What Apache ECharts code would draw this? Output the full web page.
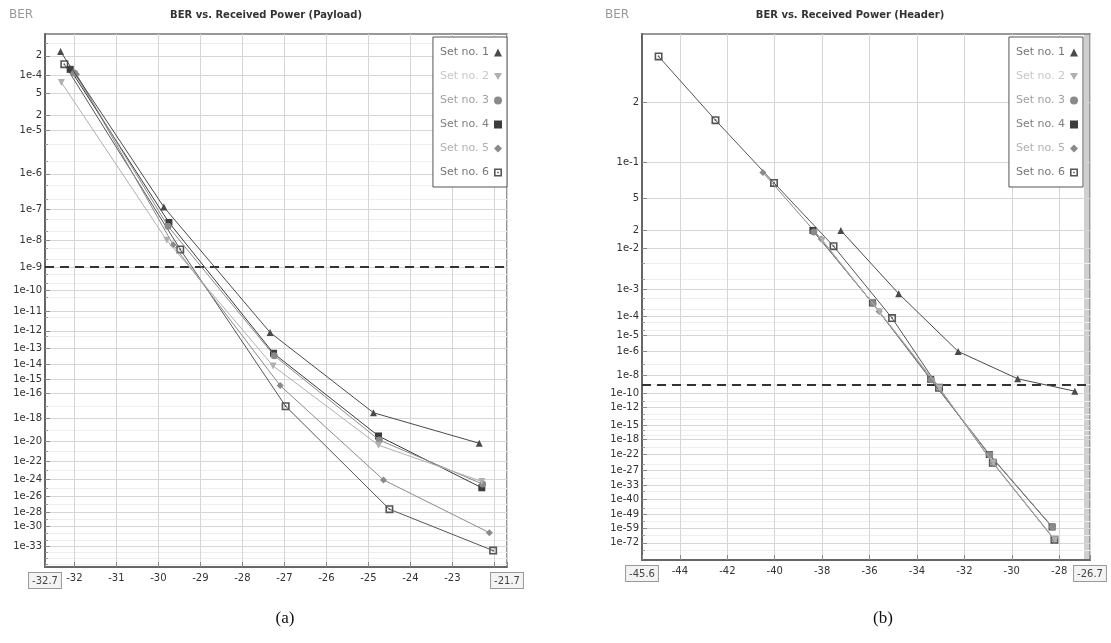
<!DOCTYPE html>
<html>
<head>
<meta charset="utf-8">
<script src="https://cdn.jsdelivr.net/npm/echarts@6/dist/echarts.min.js"></script>
<style>
html,body{margin:0;background:#fff}
#main{width:1111px;height:643px}
</style>
</head>
<body>
<div id="main"></div>
<script>
// BER data (x = received power in dBm)
var names=['Set no. 1','Set no. 2','Set no. 3','Set no. 4','Set no. 5','Set no. 6'];

// (a) payload
var payX1=[-32.33,-29.87,-27.34,-24.88,-22.36], payB1=[2.3e-4,1.2e-7,8e-13,3e-18,6e-21];
var payX2=[-32.31,-29.8,-27.27,-24.76,-22.3],  payB2=[7.7e-5,1e-8,8e-15,4e-21,6e-25];
var payX3=[-32.0,-29.77,-27.24,-24.74,-22.28], payB3=[1.1e-4,3e-8,3.5e-14,1.2e-20,3e-25];
var payX4=[-32.1,-29.75,-27.26,-24.76,-22.3],  payB4=[1.25e-4,4e-8,5e-14,2.9e-20,1.1e-25];
var payX5=[-31.95,-29.65,-27.1,-24.64,-22.12], payB5=[1.05e-4,7e-9,3.6e-16,9e-25,1.2e-31];
var payX6=[-32.24,-29.48,-26.97,-24.5,-22.03], payB6=[1.5e-4,4.7e-9,1e-17,2.3e-28,2e-34];

// (b) header
var hdrX1=[-37.21,-34.77,-32.26,-29.75,-27.34], hdrB1=[2e-2,7.2e-4,9.6e-7,4.3e-9,1.75e-10];
var hdrX2=[-38.0,-35.58,-33.05,-30.78,-28.18], hdrB2=[1.4e-2,1.5e-4,4.3e-10,2.8e-25,9e-70];
var hdrX3=[-38.35,-35.85,-33.4,-30.93,-28.28], hdrB3=[1.9e-2,3.2e-4,3.5e-9,9e-23,8e-59];
var hdrX4=[-38.39,-35.88,-33.42,-30.95,-28.3], hdrB4=[2e-2,3.4e-4,3.7e-9,1e-22,1e-58];
var hdrX5=[-40.5,-38.04,-35.6,-33.07,-30.8,-28.2], hdrB5=[8.5e-2,1.47e-2,1.56e-4,4.5e-10,3e-25,1e-69];
var hdrX6=[-44.9,-42.5,-40.03,-37.52,-35.05,-33.07,-30.8,-28.2], hdrB6=[0.27,0.17,0.07,1.1e-2,8e-5,4.5e-10,3e-25,1e-69];

var threshold=1e-9;

// axis ticks
var payXTicks=[-32.7,-32,-31,-30,-29,-28,-27,-26,-25,-24,-23,-22,-21.7];
var payXLabels=[-32.7,-32,-31,-30,-29,-28,-27,-26,-25,-24,-23,-21.7];
var hdrXTicks=[-45.6,-44,-42,-40,-38,-36,-34,-32,-30,-28,-26.7];
var hdrXLabels=[-45.6,-44,-42,-40,-38,-36,-34,-32,-30,-28,-26.7];
var payYTicks=[2e-4,1e-4,5e-5,2e-5,1e-5,1e-6,1e-7,1e-8,1e-9,1e-10,1e-11,1e-12,1e-13,1e-14,1e-15,1e-16,1e-18,1e-20,1e-22,1e-24,1e-26,1e-28,1e-30,1e-33];
var payYText=['2','1e-4','5','2','1e-5','1e-6','1e-7','1e-8','1e-9','1e-10','1e-11','1e-12','1e-13','1e-14','1e-15','1e-16','1e-18','1e-20','1e-22','1e-24','1e-26','1e-28','1e-30','1e-33'];
var payYMinor=[3e-4,5e-6,2e-6,5e-7,2e-7,5e-8,2e-8,5e-9,2e-9,5e-10,2e-10,5e-11,5e-12,5e-13,1e-17,1e-19,1e-21,1e-23,1e-25,1e-27,1e-29,1e-31,1e-32,1e-34,1e-35,1e-36];
var hdrYTicks=[2e-1,1e-1,5e-2,2e-2,1e-2,1e-3,1e-4,1e-5,1e-6,1e-8,1e-10,1e-12,1e-15,1e-18,1e-22,1e-27,1e-33,1e-40,1e-49,1e-59,1e-72];
var hdrYText=['2','1e-1','5','2','1e-2','1e-3','1e-4','1e-5','1e-6','1e-8','1e-10','1e-12','1e-15','1e-18','1e-22','1e-27','1e-33','1e-40','1e-49','1e-59','1e-72'];
var hdrYMinor=[5e-3,2e-3,5e-4,2e-4,5e-5,2e-5,1e-7,1e-9,1e-11,1e-13,1e-14,1e-16,1e-17,1e-20,1e-25,1e-30,1e-36,1e-45,1e-54,1e-65,1e-80];

// the y scale is logarithmic in the Q factor: y = ln(Qinv(BER))
function lnQ(x){
  var z=Math.abs(x)/Math.SQRT2, t=1/(1+0.5*z);
  var r=-z*z-1.26551223+t*(1.00002368+t*(0.37409196+t*(0.09678418+t*(-0.18628806+t*(0.27886807+t*(-1.13520398+t*(1.48851587+t*(-0.82215223+t*0.17087277))))))));
  var le=Math.log(t)+r;
  if(x>=0) return Math.log(0.5)+le;
  return Math.log(1-0.5*Math.exp(le));
}
function qinv(p){
  var lp=Math.log(p),lo=-8,hi=40;
  for(var i=0;i<80;i++){var m=(lo+hi)/2; if(lnQ(m)>lp) lo=m; else hi=m;}
  return (lo+hi)/2;
}
function yv(b){return Math.log(qinv(b));}

var chart=echarts.init(document.getElementById('main'));
var FONT='DejaVu Sans';
var triDown='path://M0,0L10,0L5,9Z';
var boxSq='path://M0,0H10V10H0Z M2,2V8H8V2Z M4,4H6V6H4Z';
var syms=['triangle',triDown,'circle','rect','diamond',boxSq];
var cols=['#4a4a4a','#b0b0b0','#8a8a8a','#3c3c3c','#8a8a8a','#555555'];
var legCols=['#777','#c8c8c8','#a0a0a0','#808080','#b0b0b0','#777'];

function ser(name,xs,bs,gi,k){
  return {
    name:name,type:'line',xAxisIndex:gi,yAxisIndex:gi*2,
    data:xs.map(function(x,i){return [x,yv(bs[i])];}),
    symbol:syms[k],symbolSize:k===5?8:7,
    lineStyle:{color:cols[k],width:1},
    itemStyle:{color:cols[k]},
    z:10-k
  };
}
function labFmt(pos,txt){
  return function(v){
    for(var i=0;i<pos.length;i++){ if(Math.abs(pos[i]-v)<1e-6) return txt[i]; }
    return '';
  };
}
function xFmt(lo,hi){
  return function(v){
    var s=String(Math.round(v*10)/10);
    return (Math.abs(v-lo)<1e-6||Math.abs(v-hi)<1e-6)?'{b|'+s+'}':s;
  };
}

function yAxes(gi,ticks,txt,minor,top,bot){
  var pos=ticks.map(yv), mpos=minor.map(yv), mn=yv(top), mx=yv(bot);
  return [{
    gridIndex:gi,type:'value',inverse:true,min:mn,max:mx,position:'left',
    axisLine:{show:true,lineStyle:{color:'#666',width:2}},
    axisTick:{show:true,inside:true,length:5,customValues:pos,lineStyle:{color:'#888'}},
    axisLabel:{customValues:pos,formatter:labFmt(pos,txt),fontSize:10,color:'#333',margin:3,fontFamily:FONT},
    splitLine:{show:true,lineStyle:{color:'#d6d6d6'}}
  },{
    gridIndex:gi,type:'value',inverse:true,min:mn,max:mx,position:'left',
    axisLine:{show:false},
    axisTick:{show:true,inside:true,length:3,customValues:mpos,lineStyle:{color:'#999'}},
    axisLabel:{show:false},
    splitLine:{show:true,lineStyle:{color:'#eeeeee'}}
  }];
}
function xAxis(gi,ticks,labels){
  var lo=ticks[0],hi=ticks[ticks.length-1];
  return {
    gridIndex:gi,type:'value',min:lo,max:hi,
    axisLine:{show:true,onZero:false,lineStyle:{color:'#666',width:2}},
    axisTick:{show:true,inside:true,length:5,customValues:ticks,lineStyle:{color:'#888'}},
    axisLabel:{customValues:labels,formatter:xFmt(lo,hi),fontSize:10,color:'#333',margin:6,fontFamily:FONT,
      showMinLabel:true,showMaxLabel:true,hideOverlap:false,
      rich:{b:{borderColor:'#999',borderWidth:1,padding:[3,3,2,3],backgroundColor:'#f4f4f4',color:'#444',fontSize:10,fontFamily:FONT}}},
    splitLine:{show:true,lineStyle:{color:'#d6d6d6'}}
  };
}
function legend(gi,right){
  return {
    orient:'vertical',align:'right',right:right,top:37,
    data:names.map(function(n,k){return {name:n,icon:syms[k],textStyle:{color:legCols[k]}};}),
    itemWidth:8,itemHeight:8,itemGap:13,
    textStyle:{fontSize:11,fontFamily:FONT},
    padding:[10,5,9,7],borderColor:'#555',borderWidth:1,backgroundColor:'#fff',
    selectedMode:false
  };
}

var series=[
  ser(names[0],payX1,payB1,0,0),ser(names[1],payX2,payB2,0,1),ser(names[2],payX3,payB3,0,2),
  ser(names[3],payX4,payB4,0,3),ser(names[4],payX5,payB5,0,4),ser(names[5],payX6,payB6,0,5),
  ser(names[0],hdrX1,hdrB1,1,0),ser(names[1],hdrX2,hdrB2,1,1),ser(names[2],hdrX3,hdrB3,1,2),
  ser(names[3],hdrX4,hdrB4,1,3),ser(names[4],hdrX5,hdrB5,1,4),ser(names[5],hdrX6,hdrB6,1,5)
];
[0,6].forEach(function(i){
  series[i].markLine={silent:true,symbol:'none',label:{show:false},
    lineStyle:{type:[9,6],color:'#333',width:2},data:[{yAxis:yv(threshold)}]};
});

chart.setOption({
  animation:false,
  backgroundColor:'#fff',
  grid:[
    {left:45,top:34,width:462,height:533,show:true,borderColor:'#777',borderWidth:1.5,backgroundColor:'#fff'},
    {left:642,top:34,width:448,height:526,show:true,borderColor:'#777',borderWidth:1.5,backgroundColor:'#fff'}
  ],
  xAxis:[xAxis(0,payXTicks,payXLabels),xAxis(1,hdrXTicks,hdrXLabels)],
  yAxis:yAxes(0,payYTicks,payYText,payYMinor,4e-4,3.4e-37).concat(yAxes(1,hdrYTicks,hdrYText,hdrYMinor,0.30,1e-91)),
  legend:[legend(0,604),legend(1,28)],
  series:series,
  graphic:[
    {type:'text',x:9,y:9,style:{text:'BER',font:'12px "DejaVu Sans"',fill:'#999'}},
    {type:'text',x:266,y:10,style:{text:'BER vs. Received Power (Payload)',font:'bold 10px "DejaVu Sans"',fill:'#333',textAlign:'center'}},
    {type:'text',x:605,y:9,style:{text:'BER',font:'12px "DejaVu Sans"',fill:'#999'}},
    {type:'text',x:850,y:10,style:{text:'BER vs. Received Power (Header)',font:'bold 10px "DejaVu Sans"',fill:'#333',textAlign:'center'}},
    {type:'rect',shape:{x:1084,y:35,width:5,height:524},style:{fill:'#cfcfcf'}},
    {type:'text',x:285,y:610,style:{text:'(a)',font:'17px "Liberation Serif"',fill:'#111',textAlign:'center'}},
    {type:'text',x:883,y:610,style:{text:'(b)',font:'17px "Liberation Serif"',fill:'#111',textAlign:'center'}}
  ]
});
</script>
</body>
</html>
